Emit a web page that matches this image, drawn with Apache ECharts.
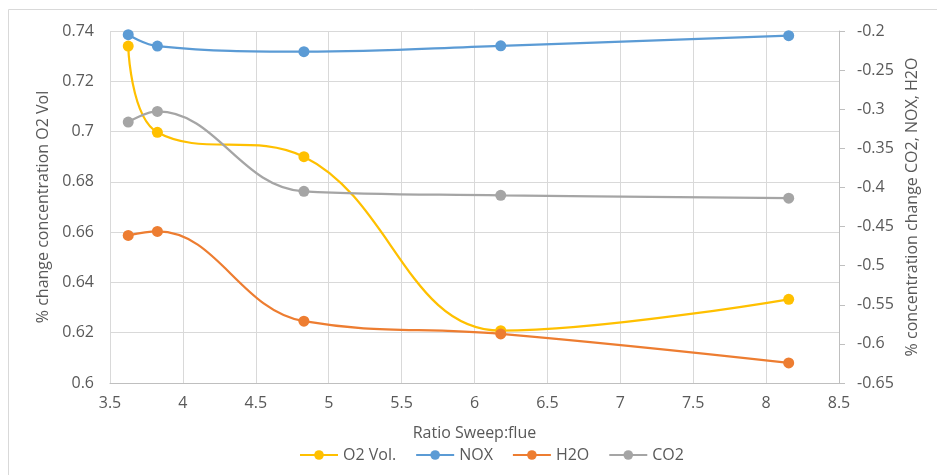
<!DOCTYPE html>
<html>
<head>
<meta charset="utf-8">
<script src="https://cdn.jsdelivr.net/npm/echarts@6/dist/echarts.min.js"></script>
<style>
  html, body { margin: 0; padding: 0; background: #fff; }
  #chart { width: 937px; height: 475px; }
</style>
</head>
<body>
<div id="chart"></div>
<script>
// ratio sweep:flue
const ratios = [3.625, 3.825, 4.83, 6.18, 8.155]
// left axis
const o2Vol = [0.734, 0.6997, 0.69, 0.6208, 0.6333]
// right axis
const nox = [-0.2047, -0.2192, -0.2265, -0.219, -0.206]
const h2o = [-0.4614, -0.4563, -0.571, -0.5873, -0.6244]
const co2 = [-0.3164, -0.3028, -0.405, -0.410, -0.4137]

const textColor = '#595959'
const font = 'Open Sans'

function pairs(ys) {
  return ratios.map((x, i) => [x, ys[i]])
}

function lineSeries(name, color, ys, axis) {
  return {
    name,
    type: 'line',
    yAxisIndex: axis,
    data: pairs(ys),
    smooth: 0.4,
    symbol: 'circle',
    symbolSize: 11,
    lineStyle: { width: 2.25, color },
    itemStyle: { color },
    emphasis: { disabled: true }
  }
}

const chart = echarts.init(document.getElementById('chart'))
chart.setOption({
  animation: false,
  textStyle: { fontFamily: font },
  graphic: [{
    type: 'rect',
    shape: { x: 8.5, y: 9.5, width: 1000, height: 1000 },
    style: { fill: 'none', stroke: '#d9d9d9', lineWidth: 1 },
    silent: true
  }],
  grid: { left: 110, right: 98, top: 31, bottom: 92 },
  legend: {
    left: 294,
    top: 442,
    itemWidth: 38,
    itemHeight: 12,
    itemGap: 19,
    textStyle: { color: textColor, fontSize: 16, fontFamily: font },
    data: ['O2 Vol.', 'NOX', 'H2O', 'CO2']
  },
  xAxis: {
    type: 'value',
    min: 3.5,
    max: 8.5,
    interval: 0.5,
    name: 'Ratio Sweep:flue',
    nameLocation: 'middle',
    nameGap: 42,
    nameTextStyle: { color: textColor, fontSize: 16 },
    axisLine: { lineStyle: { color: '#bfbfbf' } },
    axisTick: { show: false },
    axisLabel: { color: textColor, fontSize: 16, margin: 12 },
    splitLine: { show: true, lineStyle: { color: '#d9d9d9' } }
  },
  yAxis: [{
    type: 'value',
    min: 0.6,
    max: 0.74,
    interval: 0.02,
    name: '% change concentration O2 Vol',
    nameLocation: 'middle',
    nameGap: 58,
    nameTextStyle: { color: textColor, fontSize: 16 },
    axisLine: { show: false },
    axisTick: { show: false },
    axisLabel: { color: textColor, fontSize: 16, margin: 16 },
    splitLine: { show: true, lineStyle: { color: '#d9d9d9' } }
  }, {
    type: 'value',
    position: 'right',
    min: -0.65,
    max: -0.2,
    interval: 0.05,
    name: '% concentration change CO2, NOX, H2O',
    nameLocation: 'middle',
    nameGap: 64,
    nameTextStyle: { color: textColor, fontSize: 16 },
    axisLine: { show: true, lineStyle: { color: '#bfbfbf' } },
    axisTick: { show: true, length: 6, lineStyle: { color: '#bfbfbf' } },
    axisLabel: { color: textColor, fontSize: 16, margin: 18 },
    splitLine: { show: false }
  }],
  series: [
    lineSeries('O2 Vol.', '#FFC000', o2Vol, 0),
    lineSeries('NOX', '#5B9BD5', nox, 1),
    lineSeries('H2O', '#ED7D31', h2o, 1),
    lineSeries('CO2', '#A5A5A5', co2, 1)
  ]
})
</script>
</body>
</html>
